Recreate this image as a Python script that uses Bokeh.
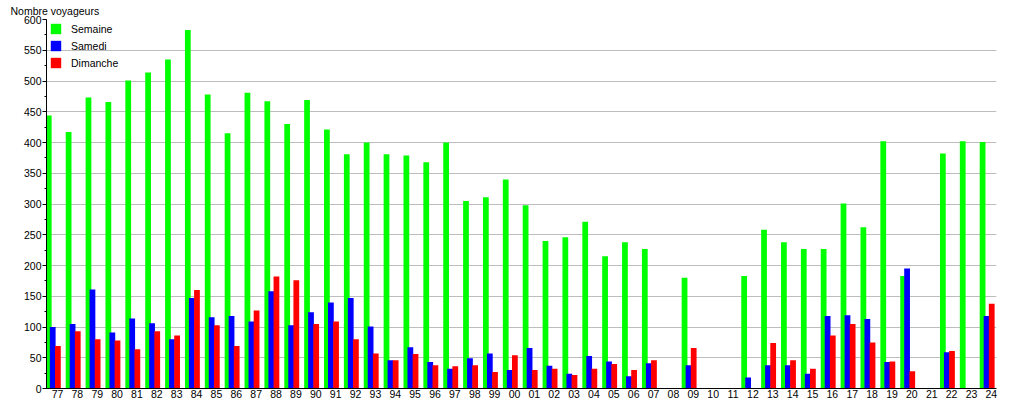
from bokeh.plotting import figure
from bokeh.models import Range1d, SingleIntervalTicker, FixedTicker, Legend, LegendItem
from bokeh.embed import file_html
from bokeh.resources import INLINE

years = ["77", "78", "79", "80", "81", "82", "83", "84", "85", "86", "87", "88",
         "89", "90", "91", "92", "93", "94", "95", "96", "97", "98", "99", "00",
         "01", "02", "03", "04", "05", "06", "07", "08", "09", "10", "11", "12",
         "13", "14", "15", "16", "17", "18", "19", "20", "21", "22", "23", "24"]

semaine = [444, 417, 473, 466, 501, 514, 535, 583, 478, 415, 481, 467,
           430, 469, 421, 381, 400, 381, 379, 368, 400, 305, 311, 340,
           298, 240, 246, 271, 215, 238, 227, 0, 180, 0, 0, 183,
           258, 238, 227, 227, 301, 262, 402, 183, 0, 382, 402, 401]

samedi = [100, 105, 161, 91, 114, 106, 80, 147, 116, 118, 109, 158,
          103, 124, 140, 147, 101, 46, 67, 43, 32, 49, 57, 30,
          66, 37, 24, 53, 44, 20, 41, 0, 38, 0, 0, 18,
          38, 38, 24, 118, 119, 113, 43, 195, 0, 59, 0, 118]

dimanche = [69, 93, 80, 78, 64, 93, 86, 160, 103, 69, 127, 182,
            176, 105, 109, 80, 57, 46, 56, 38, 36, 38, 27, 54,
            30, 32, 22, 32, 40, 30, 46, 0, 66, 0, 0, 0,
            74, 46, 32, 86, 105, 75, 44, 28, 0, 61, 0, 138]

series_names = ["Semaine", "Samedi", "Dimanche"]
colors = ["#00ff00", "#0000ff", "#ff0000"]
offsets = [-0.44, -0.24, 0.02]

FONT = "Liberation Sans"
FS = "10.5px"

idx = list(range(len(years)))

p = figure(width=1015, height=400, output_backend="svg", toolbar_location=None,
           x_range=Range1d(-0.553, 47.26), y_range=Range1d(0, 600),
           min_border_left=46, min_border_right=19, min_border_top=18,
           min_border_bottom=12)
p.outline_line_color = None
p.background_fill_color = "white"

p.title.text = "Nombre voyageurs"
p.title.align = "left"
p.title.offset = -36
p.title.standoff = 5
p.title.text_font = FONT
p.title.text_font_size = FS
p.title.text_font_style = "normal"
p.title.text_color = "black"

renderers = []
for vals, col, off in zip([semaine, samedi, dimanche], colors, offsets):
    r = p.vbar(x=[i + off for i in idx], top=vals, width=0.29, bottom=0,
               fill_color=col, line_color=None)
    renderers.append(r)

p.xgrid.visible = False
p.ygrid.grid_line_color = "#bdbdbd"
p.ygrid.grid_line_width = 1
p.ygrid.ticker = SingleIntervalTicker(interval=50)

yax = p.yaxis[0]
yax.ticker = SingleIntervalTicker(interval=50, num_minor_ticks=2)
yax.major_tick_out = 4
yax.major_tick_in = 0
yax.minor_tick_out = 2
yax.minor_tick_in = 0
yax.major_label_standoff = 1
yax.axis_line_color = "black"
yax.major_tick_line_color = "black"
yax.minor_tick_line_color = "black"
yax.major_label_text_font = FONT
yax.major_label_text_font_size = FS
yax.major_label_text_color = "black"

xax = p.xaxis[0]
xax.ticker = FixedTicker(ticks=idx)
xax.major_label_overrides = {i: y for i, y in enumerate(years)}
xax.major_tick_out = 0
xax.major_tick_in = 0
xax.minor_tick_out = 0
xax.minor_tick_in = 0
xax.major_label_standoff = 1
xax.axis_line_color = "black"
xax.major_label_text_font = FONT
xax.major_label_text_font_size = FS
xax.major_label_text_color = "black"

legend = Legend(items=[LegendItem(label=n, renderers=[r]) for n, r in zip(series_names, renderers)],
                location="top_left")
legend.margin = 0
legend.padding = 3
legend.glyph_width = 13
legend.glyph_height = 13
legend.label_height = 13
legend.spacing = 4
legend.label_standoff = 9
legend.label_text_font = FONT
legend.label_text_font_size = FS
legend.label_text_color = "black"
legend.border_line_alpha = 0
legend.background_fill_alpha = 0
p.add_layout(legend)

open("out.html", "w").write(file_html(p, INLINE))
